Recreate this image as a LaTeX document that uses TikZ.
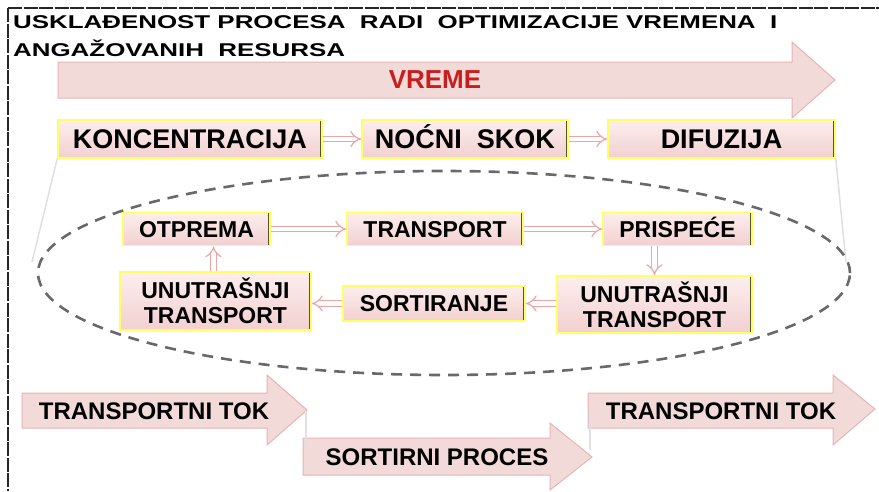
\documentclass[tikz,border=0pt]{standalone}
\usepackage{fontspec}
\setmainfont{Liberation Sans}
\newfontfamily\titlefont{Liberation Sans}[FakeStretch=1.4]
\definecolor{flowpink}{RGB}{242,218,217}
\definecolor{flowedge}{RGB}{230,180,179}
\definecolor{boxtop}{RGB}{253,238,238}
\definecolor{boxbot}{RGB}{242,208,208}
\definecolor{boxyellow}{RGB}{255,255,95}
\definecolor{boxshade}{RGB}{85,85,45}
\definecolor{linkpink}{RGB}{236,165,165}
\definecolor{loopgray}{RGB}{105,105,105}
\definecolor{timered}{RGB}{200,30,30}
\usetikzlibrary{arrows.meta,positioning}

\begin{document}
\begin{tikzpicture}[x=1pt, y=-1pt,
  pbox/.style={rectangle, draw=boxyellow, line width=1.6pt,
               top color=boxtop, bottom color=boxbot, align=center,
               text=black, inner sep=0pt,
               path picture={\fill[boxshade]
                 ([xshift=-2.5pt]path picture bounding box.north east)
                 rectangle (path picture bounding box.south east);}},
  bigbox/.style={pbox, minimum height=38pt, text height=19.4pt, text depth=0pt,
                 font=\fontsize{27}{30}\selectfont\bfseries},
  smallbox/.style={pbox, font=\fontsize{23}{25}\selectfont\bfseries},
  oneline/.style={text height=16.5pt, text depth=0pt},
  flow/.style={fill=flowpink, draw=flowedge, line width=1pt, line join=miter},
  flowtext/.style={font=\fontsize{24}{26}\selectfont\bfseries, text=black},
  link/.style={draw=linkpink, double=white, double distance=4.5pt,
               line width=1.2pt, -{Implies}},
  faint/.style={draw=black!12, line width=1.5pt},
  ring/.style={draw=loopgray, line width=2.6pt, dash pattern=on 11pt off 8pt}
]
\useasboundingbox (0,0) rectangle (879,491);

% frame
\draw[black!85, line width=2.6pt, dash pattern=on 14pt off 1.5pt] (8,8) -- (879,8);
\draw[black!85, line width=2.6pt, dash pattern=on 14pt off 1.5pt] (8,8) -- (8,491);

% title
\node[anchor=north west, align=left, inner sep=0pt,
      font=\titlefont\fontsize{18.5}{28}\selectfont\bfseries] (title) at (13,15)
  {USKLAĐENOST PROCESA\ \ RADI\ \ OPTIMIZACIJE VREMENA\ \ I\\ANGAŽOVANIH\ \ RESURSA};

% time arrow
\draw[flow] (58,62) -- (792,62) -- (792,42) -- (835,80) -- (792,118) -- (792,98) -- (58,98) -- cycle;
\node[font=\fontsize{26}{28}\selectfont\bfseries, text=timered] (vreme) at (435,80) {VREME};

% phases
\node[bigbox, minimum width=264pt] (konc) at (190,139) {KONCENTRACIJA};
\node[bigbox, minimum width=206pt] (nocni) at (465,139) {NOĆNI\ \ SKOK};
\node[bigbox, minimum width=227pt] (dif) at (721.5,139) {DIFUZIJA};

\draw[link] (konc) -- (nocni);
\draw[link] (nocni) -- (dif);

% loop
\coordinate (loopc) at (444,273);
\coordinate (lft) at (32,262);
\coordinate (rgt) at (846,262);
\draw[faint] (konc.south west) -- (lft);
\draw[faint] (dif.south east) -- (rgt);
\draw[ring] (loopc) ellipse [x radius=406pt, y radius=102pt];

% steps
\node[smallbox, oneline, minimum width=147pt, minimum height=33pt] (otp) at (196.5,229) {OTPREMA};
\node[smallbox, oneline, minimum width=176pt, minimum height=33pt] (tr) at (435,229) {TRANSPORT};
\node[smallbox, oneline, minimum width=149pt, minimum height=33pt] (pri) at (677.5,229) {PRISPEĆE};
\node[smallbox, minimum width=191pt, minimum height=58pt] (unl) at (215.5,301) {UNUTRAŠNJI\\TRANSPORT};
\node[smallbox, oneline, minimum width=182pt, minimum height=35pt] (sort) at (434,303.5) {SORTIRANJE};
\node[smallbox, minimum width=195pt, minimum height=57pt] (unr) at (654.5,304.5) {UNUTRAŠNJI\\TRANSPORT};

\draw[link] (otp) -- (tr);
\draw[link] (tr) -- (pri);
\draw[link] (pri.south -| unr) -- (unr.north);
\draw[link] (unr.west |- sort) -- (sort.east);
\draw[link] (sort.west) -- (unl.east |- sort);
\draw[link] ([xshift=-2pt]unl.north) -- ([xshift=-2pt]otp.south -| unl.north);

% flows
\draw[flow] (22,393) -- (267,393) -- (267,375) -- (307,410) -- (267,445) -- (267,428) -- (22,428) -- cycle;
\draw[flow] (303,438) -- (550,438) -- (550,423) -- (592,457) -- (550,490) -- (550,475) -- (303,475) -- cycle;
\draw[flow] (588,393) -- (833,393) -- (833,375) -- (875,409) -- (833,445) -- (833,428) -- (588,428) -- cycle;
\node[flowtext] (tokl) at (154,411) {TRANSPORTNI TOK};
\node[flowtext] (sproc) at (437,457) {SORTIRNI PROCES};
\node[flowtext] (tokr) at (721,411) {TRANSPORTNI TOK};

\coordinate (gapl) at (306,448);
\coordinate (gapr) at (590,450);
\draw[faint] (tokl.east -| gapl) -- (gapl);
\draw[faint] (tokr.west -| gapr) -- (gapr);
\end{tikzpicture}
\end{document}
